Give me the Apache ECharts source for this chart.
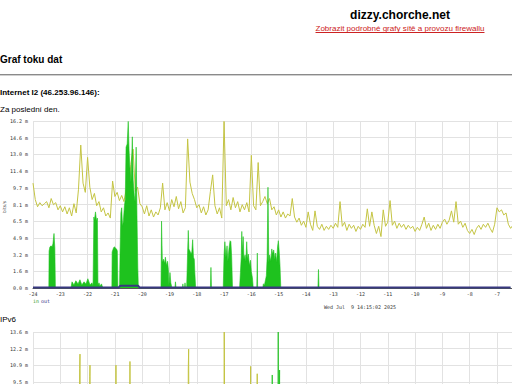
<!DOCTYPE html>
<html><head><meta charset="utf-8">
<script src="https://cdn.jsdelivr.net/npm/echarts@6/dist/echarts.min.js"></script>
<style>
html,body{margin:0;padding:0;width:512px;height:384px;overflow:hidden;background:#fff;font-family:"Liberation Sans",Arial,sans-serif;}
#chart{position:absolute;left:0;top:0;width:720px;height:520px;}
.t{position:absolute;white-space:nowrap;color:#000;line-height:1;z-index:2;}
#hr{position:absolute;left:0;top:74px;width:512px;height:1px;background:#8a8a8a;border-bottom:1px solid #d0d0d0;z-index:2;}
</style></head>
<body>
<div id="chart"></div>
<div class="t" style="left:250px;width:300px;text-align:center;top:9.3px;font-size:12px;font-weight:bold">dizzy.chorche.net</div>
<a class="t" style="left:250px;width:300px;text-align:center;top:25.2px;font-size:8px;color:#cc2222;text-decoration:underline">Zobrazit podrobné grafy sítě a provozu firewallu</a>
<div class="t" style="left:0;top:54.8px;font-size:10px;font-weight:bold">Graf toku dat</div>
<div id="hr"></div>
<div class="t" style="left:0;top:89.2px;font-size:8px;font-weight:bold">Internet I2 (46.253.96.146):</div>
<div class="t" style="left:0;top:106.2px;font-size:8px">Za poslední den.</div>
<div class="t" style="left:0;top:315.7px;font-size:8px">IPv6</div>
<script>
// x-axis tick labels (hours before now); the page window shows up to -7
var xTickLabels = ['-24','-23','-22','-21','-20','-19','-18','-17','-16','-15','-14','-13','-12','-11','-10','-9','-8','-7'];
var yTicks1 = ['0.0 m','1.6 m','3.2 m','4.9 m','6.5 m','8.1 m','9.7 m','11.4 m','13.0 m','14.6 m','16.2 m'];
// IPv6 tick labels visible in the window (top part of the axis)
var yTicks2 = ['','','','','','','','9.5 m','10.9 m','12.2 m','13.6 m'];

// Internet I2: yellow line, 5-minute samples from -24 h
var yellow1 = [10.2,8.6,7.9,8.3,8.0,8.2,8.4,7.8,8.7,8.1,
 8.3,7.6,8.0,7.4,7.9,7.2,7.8,7.0,8.2,7.3,
 9.6,13.9,10.2,9.3,12.7,9.8,8.6,9.2,8.0,8.4,
 7.4,7.8,7.0,7.3,6.8,10.4,8.9,9.3,8.5,9.0,
 8.4,9.6,9.0,12.0,13.5,9.4,9.8,8.2,7.9,7.2,
 8.0,7.0,7.6,6.9,7.4,7.1,7.8,10.2,7.6,8.3,
 7.5,8.6,7.9,8.9,7.7,8.4,7.3,7.8,14.5,10.3,
 9.2,8.6,7.8,8.1,7.3,7.9,7.1,7.6,9.4,11.0,
 8.0,7.2,7.8,6.8,16.2,8.0,8.6,7.6,8.8,7.8,
 8.4,7.4,8.1,7.6,8.3,7.4,12.9,8.0,7.6,12.2,
 8.0,8.4,8.9,8.2,8.7,7.6,7.9,7.1,7.6,6.9,
 7.4,6.8,7.2,7.0,8.7,6.9,6.4,6.8,6.1,6.5,
 5.9,7.4,6.2,5.6,7.5,6.0,5.7,6.2,5.6,6.0,
 5.7,6.1,5.8,6.3,5.9,8.4,6.0,6.4,5.6,6.2,
 5.8,6.1,5.5,6.0,5.7,6.2,5.9,7.7,6.0,7.4,
 6.1,5.3,6.0,5.0,7.6,6.0,6.4,8.5,6.1,6.5,
 5.8,6.3,5.9,6.2,5.7,6.1,5.8,6.0,5.5,5.9,
 5.6,6.2,6.9,5.8,6.3,5.6,6.1,5.7,6.2,5.8,
 6.4,6.7,6.2,6.6,7.5,6.4,8.4,6.2,6.5,5.9,
 6.3,5.6,5.3,5.7,5.2,5.8,6.1,5.7,6.2,5.9,
 6.3,5.8,5.4,6.2,7.8,7.4,7.6,7.1,7.3,6.2,
 5.8,6.1];

// Internet I2: "in" (green) [hour, value]
var in1 = [
[-24,0],
[-23.42,0],[-23.41,3.6],[-23.38,4.0],[-23.34,4.1],[-23.30,4.0],[-23.27,4.3],[-23.23,5.3],[-23.20,3.9],[-23.18,0],
[-22.61,0],[-22.57,0.6],[-22.50,0.3],[-22.43,0.7],[-22.35,0.4],[-22.28,0.8],[-22.21,0.3],[-22.13,0.6],[-22.06,0.4],[-21.99,0.9],[-21.91,0.3],[-21.84,0.5],[-21.80,0.2],
[-21.77,6.9],[-21.75,6.6],[-21.71,7.4],[-21.67,6.5],[-21.64,6.8],[-21.62,0.3],[-21.58,0.5],[-21.55,0.2],[-21.49,0.4],[-21.44,0],
[-21.11,0],[-21.10,3.5],[-21.05,3.9],[-21.02,4.0],[-20.98,3.9],[-20.94,3.8],[-20.91,3.6],[-20.89,0],
[-20.83,0],[-20.81,3.5],[-20.78,7.3],[-20.75,7.8],[-20.72,6.0],[-20.69,6.5],[-20.65,8.0],[-20.62,8.6],[-20.59,13.7],[-20.55,14.0],[-20.51,16.2],[-20.48,13.4],[-20.45,11.8],[-20.41,10.3],[-20.36,14.7],[-20.33,10.5],[-20.29,9.0],[-20.26,8.4],[-20.22,13.7],[-20.19,7.0],[-20.16,2.0],[-20.14,0],
[-19.31,0],[-19.29,6.5],[-19.26,2.5],[-19.22,2.8],[-19.18,2.4],[-19.15,3.0],[-19.11,2.2],[-19.07,2.6],[-19.04,1.8],[-19.02,0.3],[-18.98,1.5],[-18.95,0.5],[-18.91,0],
[-18.80,0],[-18.78,0.6],[-18.76,0],[-18.52,0],[-18.51,0.4],[-18.49,0],[-18.45,0],[-18.43,0.5],[-18.41,0],
[-18.37,0],[-18.34,3.0],[-18.31,5.6],[-18.29,3.8],[-18.25,3.6],[-18.21,3.3],[-18.18,3.5],[-18.15,4.7],[-18.12,3.0],[-18.09,2.8],[-18.07,1.5],[-18.04,0],
[-17.50,0],[-17.48,2.0],[-17.46,0],
[-17.03,0],[-17.00,3.2],[-16.97,4.5],[-16.93,3.0],[-16.89,4.1],[-16.86,2.6],[-16.82,3.8],[-16.78,4.6],[-16.75,4.5],[-16.72,3.0],[-16.69,0],
[-16.43,0],[-16.40,1.5],[-16.37,3.0],[-16.35,5.5],[-16.33,3.5],[-16.30,5.0],[-16.27,2.8],[-16.23,3.2],[-16.20,2.6],[-16.17,4.5],[-16.14,2.8],[-16.11,3.3],[-16.07,2.2],[-16.03,2.7],[-16.00,1.6],[-15.96,1.0],[-15.93,0],
[-15.80,0],[-15.78,3.4],[-15.77,0],
[-15.58,0],[-15.56,0.4],[-15.52,0.3],[-15.48,0.8],[-15.45,1.2],[-15.42,3.0],[-15.39,9.8],[-15.36,2.5],[-15.33,3.2],[-15.29,2.6],[-15.25,3.8],[-15.22,3.3],[-15.18,3.7],[-15.14,2.8],[-15.11,3.4],[-15.07,2.5],[-15.04,4.0],[-15.01,4.6],[-14.98,3.6],[-14.95,2.2],[-14.92,0],
[-13.56,0],[-13.54,1.8],[-13.52,0],
[-6.5,0]];

// Internet I2: "out" (dark blue) [hour, value]
var out1 = [[-24,0.06],[-20.86,0.06],[-20.8,0.22],[-20.15,0.22],[-20.1,0.06],[-6.5,0.06]];

// IPv6 [hour, value]
var yellow2 = [[-24,0.8],[-22.31,0.8],[-22.29,10.6],[-22.278,11.8],[-22.26,0.8],
[-21.93,0.8],[-21.92,10.0],[-21.912,10.9],[-21.90,0.8],
[-20.98,0.8],[-20.96,10.9],[-20.94,0.8],
[-20.47,0.8],[-20.447,11.2],[-20.43,0.8],
[-18.32,0.8],[-18.31,10.6],[-18.297,12.2],[-18.28,0.8],
[-17.01,0.8],[-16.993,13.6],[-16.985,11.1],[-16.97,0.8],
[-16.045,0.8],[-16.026,10.8],[-16.01,0.8],
[-15.80,0.8],[-15.784,10.2],[-15.77,0.8],
[-6.5,0.8]];
var in2 = [[-24,0],[-15.25,0],[-15.234,10.1],[-15.22,0],[-15.03,0],[-15.015,13.6],[-15.0,0.5],[-14.965,10.5],[-14.95,0],[-6.5,0]];

var yellowColor = '#c4c443', greenColor = '#1ec21e', blueColor = '#383880';
var chart = echarts.init(document.getElementById('chart'), null, {renderer:'svg'});
function yellowPairs(vals){ return vals.map(function(v,i){ return [-24 + i/12, v]; }); }
function xAxisCfg(g, showLabels){
  return {type:'value', gridIndex:g, min:-24, max:0, interval:1,
    axisLine:{show:true, onZero:false, lineStyle:{color:'#555', width:1}},
    axisTick:{show:false},
    axisLabel:{show:showLabels, showMinLabel:true, showMaxLabel:false, fontSize:5, fontFamily:'DejaVu Sans Mono', color:'#333', margin:3,
      formatter:function(v){ var s = xTickLabels[Math.round(v+24)]; return s === undefined ? '' : s; }},
    splitLine:{show:true, lineStyle:{color:'#e2e2e2', width:1}}};
}
function yAxisCfg(g, max, iv, labels){
  return {type:'value', gridIndex:g, min:0, max:max, interval:iv,
    axisLine:{show:true, lineStyle:{color:'#555', width:1}},
    axisTick:{show:true, length:2, lineStyle:{color:'#999'}},
    axisLabel:{fontSize:5, fontFamily:'DejaVu Sans Mono', color:'#333', margin:5,
      formatter:function(v){ return labels[Math.round(v/iv)]; }},
    splitLine:{show:true, lineStyle:{color:'#e2e2e2', width:1}}};
}
chart.setOption({
  animation:false,
  grid:[{left:33, top:121, width:655, height:167},{left:33, top:332, width:655, height:167}],
  xAxis:[xAxisCfg(0, true), xAxisCfg(1, false)],
  yAxis:[yAxisCfg(0,16.24,1.624,yTicks1), yAxisCfg(1,13.6,1.36,yTicks2)],
  series:[
    {type:'line', xAxisIndex:0, yAxisIndex:0, data:yellowPairs(yellow1), symbol:'none', lineStyle:{color:yellowColor, width:1}, z:2},
    {type:'line', xAxisIndex:0, yAxisIndex:0, data:in1, symbol:'none', lineStyle:{color:greenColor, width:0.6}, areaStyle:{color:greenColor, opacity:1}, z:3},
    {type:'line', xAxisIndex:0, yAxisIndex:0, data:out1, symbol:'none', lineStyle:{color:blueColor, width:2}, z:4},
    {type:'line', xAxisIndex:1, yAxisIndex:1, data:yellow2, symbol:'none', lineStyle:{color:yellowColor, width:1}, z:2},
    {type:'line', xAxisIndex:1, yAxisIndex:1, data:in2, symbol:'none', lineStyle:{color:greenColor, width:0.8}, areaStyle:{color:greenColor, opacity:1}, z:3}
  ],
  graphic:[
    {type:'text', x:4, y:207, rotation:Math.PI/2, style:{text:'bits/s', fontSize:4.5, fontFamily:'DejaVu Sans', fill:'#333', textAlign:'center', textVerticalAlign:'middle'}},
    {type:'text', x:33, y:301, style:{text:'in', fontSize:5, fontFamily:'DejaVu Sans Mono', fill:'#2a9a2a', textAlign:'left', textVerticalAlign:'middle'}},
    {type:'text', x:41, y:301, style:{text:'out', fontSize:5, fontFamily:'DejaVu Sans Mono', fill:'#333388', textAlign:'left', textVerticalAlign:'middle'}},
    {type:'text', x:360, y:307, style:{text:'Wed Jul  9 14:15:02 2025', fontSize:5, fontFamily:'DejaVu Sans Mono', fill:'#333', textAlign:'center', textVerticalAlign:'middle'}}
  ]
});
</script>
</body></html>
